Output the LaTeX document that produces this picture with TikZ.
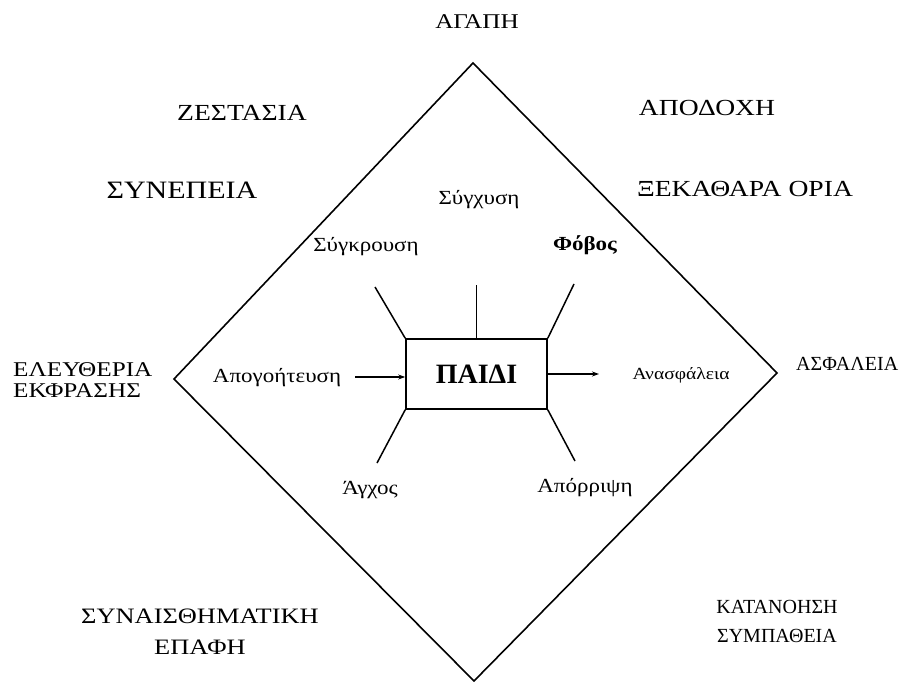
\documentclass[tikz,border=0pt]{standalone}
\usepackage{fontspec}
\setmainfont{Liberation Serif}
\newfontfamily\widefont[FakeStretch=1.2]{Liberation Serif}
\newfontfamily\labfont[FakeStretch=1.15]{Liberation Serif}
\usetikzlibrary{arrows.meta}
\begin{document}
\begin{tikzpicture}[x=1pt,y=-1pt,
  caps/.style={font=\widefont\fontsize{23}{27}\selectfont, align=center, inner sep=0pt},
  lbl/.style={font=\labfont\fontsize{20}{22}\selectfont, inner sep=0pt},
  frame/.style={line width=1.6pt, line join=miter},
  spoke/.style={line width=1.5pt},
  arr/.style={spoke, -{Stealth[length=7pt,width=5pt]}}]
\useasboundingbox (0,0) rectangle (903,682);
% diamond
\coordinate (T) at (473,63);
\coordinate (R) at (777,373);
\coordinate (B) at (474,681);
\coordinate (L) at (174,379);
\draw[frame] (T) -- (R) -- (B) -- (L) -- cycle;
% central box
\node[draw, line width=1.6pt, minimum width=141pt, minimum height=70pt, inner sep=0pt,
      font=\bfseries\fontsize{28}{30}\selectfont] (child) at (476.5,374) {ΠΑΙΔΙ};
% spoke ends
\coordinate (s1) at (375,287);
\coordinate (s2) at (476.5,285);
\coordinate (s3) at (574,284);
\coordinate (s4) at (377,463);
\coordinate (s5) at (575,461);
\coordinate (a1) at (355,377);
\coordinate (a2) at (599,374);
\draw[spoke] (child.north west) -- (s1);
\draw[spoke] (child.north) -- (s2);
\draw[spoke] (child.north east) -- (s3);
\draw[spoke] (child.south west) -- (s4);
\draw[spoke] (child.south east) -- (s5);
\draw[arr] (a1) -- (a1 -| child.west);
\draw[arr] (child.east) -- (a2);
% inner labels
\node[lbl] (synx) at (479,200) {Σύγχυση};
\node[lbl] (sygk) at (366,247) {Σύγκρουση};
\node[lbl, font=\labfont\bfseries\fontsize{20}{22}\selectfont] (fovos) at (585,245) {Φόβος};
\node[lbl] (apog) at (277,378) {Απογοήτευση};
\node[lbl, font=\labfont\fontsize{17}{22}\selectfont] (anas) at (681,375) {Ανασφάλεια};
\node[lbl] (agx) at (370,490) {Άγχος};
\node[lbl] (apor) at (585,488) {Απόρριψη};
% outer labels
\node[caps, font=\widefont\fontsize{21}{25}\selectfont] (agapi) at (477,22) {ΑΓΑΠΗ};
\node[caps] (zest) at (242,113) {ΖΕΣΤΑΣΙΑ};
\node[caps] (apod) at (707,108) {ΑΠΟΔΟΧΗ};
\node[caps, font=\widefont\fontsize{25}{27}\selectfont] (synep) at (182,190) {ΣΥΝΕΠΕΙΑ};
\node[caps] (xek) at (745,189) {ΞΕΚΑΘΑΡΑ ΟΡΙΑ};
\node[caps, align=left, anchor=west, font=\widefont\fontsize{21}{21}\selectfont] (elef) at (13,380) {ΕΛΕΥΘΕΡΙΑ\\ΕΚΦΡΑΣΗΣ};
\node[caps, anchor=west, font=\fontsize{20}{24}\selectfont] (asf) at (796,364) {ΑΣΦΑΛΕΙΑ};
\node[caps, font=\widefont\fontsize{22}{31}\selectfont] (synais) at (200,632) {ΣΥΝΑΙΣΘΗΜΑΤΙΚΗ\\ΕΠΑΦΗ};
\node[caps, font=\fontsize{20}{29}\selectfont] (katan) at (777,621) {ΚΑΤΑΝΟΗΣΗ\\ΣΥΜΠΑΘΕΙΑ};
\end{tikzpicture}
\end{document}
